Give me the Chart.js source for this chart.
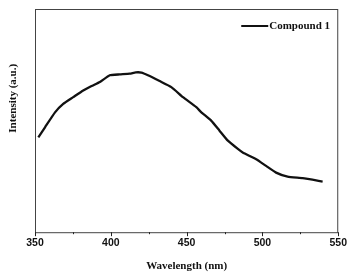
<!DOCTYPE html>
<html><head><meta charset="utf-8">
<script src="https://cdn.jsdelivr.net/npm/chart.js@4.4.0/dist/chart.umd.min.js"></script>
<style>html,body{margin:0;padding:0;background:#fff}#w{width:352px;height:275px}</style>
</head><body><div id="w"><canvas id="c"></canvas></div>
<script>
const wavelengths = [352.2,356.6,363.2,368.6,375.2,381.8,387.3,392.8,399.3,405.9,412.5,416.5,420.2,424.5,432.2,439.9,447.6,456.4,459.7,466.2,471.7,477.2,483.8,487,495.9,502.4,509,516.6,526.5,539.7];
const intensity = [42.5,47,53.7,57.5,60.5,63.5,65.5,67.3,70.3,70.7,71.0,71.6,71.5,70.3,67.7,65,60.5,56,53.7,50,45.5,41,37.3,35.7,32.7,29.7,26.7,24.9,24.2,22.7];
const xTicks = [350,400,450,500,550];
const seriesName = 'Compound 1';
const xTitle = 'Wavelength (nm)';
const yTitle = 'Intensity (a.u.)';

const pts = wavelengths.map((x,i)=>({x, y: intensity[i]}));

const deco = {
  id:'deco',
  afterDraw(chart){
    const {ctx, chartArea:a, scales} = chart;
    const xs = scales.x;
    ctx.save();
    ctx.strokeStyle = '#444';
    ctx.lineWidth = 1;
    ctx.strokeRect(a.left+0.5, a.top+0.5, a.right-a.left-1, a.bottom-a.top);
    ctx.strokeStyle = '#222';
    for (let v = 350; v <= 550; v += 25) {
      const px = Math.round(xs.getPixelForValue(v)) + 0.5;
      const len = (v % 50 === 0) ? 4 : 2;
      ctx.beginPath(); ctx.moveTo(px, a.bottom); ctx.lineTo(px, a.bottom + len); ctx.stroke();
    }
    ctx.fillStyle = '#111';
    ctx.font = 'bold 11px "Liberation Serif"';
    ctx.textAlign = 'center'; ctx.textBaseline = 'middle';
    ctx.translate(13, a.top + (a.bottom - a.top) * 0.4);
    ctx.rotate(-Math.PI/2);
    ctx.fillText(yTitle, 0, 0);
    ctx.restore();
    ctx.save();
    const ly = a.top + 17;
    const lx = a.right - 97;
    ctx.strokeStyle = '#111'; ctx.lineWidth = 2;
    ctx.beginPath(); ctx.moveTo(lx, ly); ctx.lineTo(lx + 27, ly); ctx.stroke();
    ctx.fillStyle = '#111';
    ctx.font = 'bold 11px "Liberation Serif"';
    ctx.textAlign = 'left'; ctx.textBaseline = 'middle';
    ctx.fillText(seriesName, lx + 28, ly);
    ctx.restore();
  }
};

new Chart(document.getElementById('c'), {
  type: 'scatter',
  data: { datasets: [{ label: seriesName, data: pts, showLine: true, borderColor: '#111', borderWidth: 2.3, pointRadius: 0, tension: 0.15, fill: false }] },
  options: {
    responsive: true, maintainAspectRatio: false, animation: false,
    layout: { padding: { left: 35, right: 13, top: 9, bottom: 2 } },
    plugins: { legend: { display: false }, tooltip: { enabled: false } },
    scales: {
      x: {
        type: 'linear', min: 350, max: 550,
        afterBuildTicks(s){ s.ticks = xTicks.map(v=>({value:v})); },
        grid: { display: false, drawTicks: false },
        border: { display: false },
        ticks: { color: '#111', font: { family: 'Liberation Sans', weight: 'bold', size: 10.5 }, padding: 5, maxRotation: 0 },
        title: { display: true, text: xTitle, color: '#111', font: { family: 'Liberation Serif', weight: 'bold', size: 11 }, padding: { top: 5, bottom: 0 } }
      },
      y: { display: false, min: 0, max: 100 }
    }
  },
  plugins: [deco]
});
</script></body></html>
